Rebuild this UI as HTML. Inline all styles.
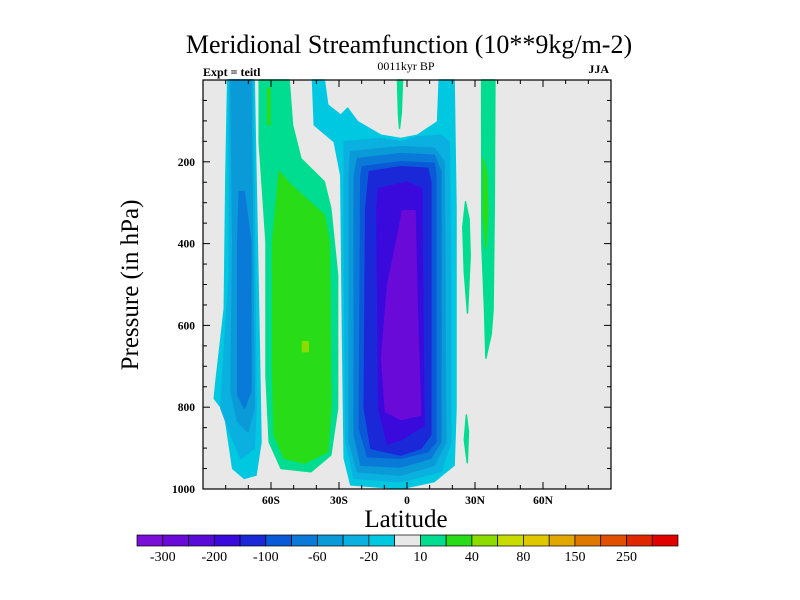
<!DOCTYPE html>
<html><head><meta charset="utf-8"><style>
body{margin:0;background:#fff;}
svg{display:block;font-family:"Liberation Serif",serif;}
</style></head><body>
<svg id="chart" width="800" height="600" viewBox="0 0 800 600">
<text x="409" y="53" font-size="26" text-anchor="middle">Meridional Streamfunction (10**9kg/m-2)</text>
<text x="203" y="76" font-size="12" font-weight="bold">Expt = teitl</text>
<text x="406" y="70" font-size="12" text-anchor="middle">0011kyr BP</text>
<text x="609" y="73" font-size="12" font-weight="bold" text-anchor="end">JJA</text>
<g id="plot"></g>
<g id="axes"></g>
<text x="406" y="527" font-size="25" text-anchor="middle">Latitude</text>
<text transform="translate(138,285) rotate(-90)" font-size="25" text-anchor="middle">Pressure (in hPa)</text>
<g id="cbar"></g>
</svg>
<script>
const latTicks=[-60,-30,0,30,60];
const latTickLabels=["60S","30S","0","30N","60N"];
const presTicks=[200,400,600,800,1000];
const cbarColors=["#7a10d8","#6a0ad8","#5a0ad8","#3a0adc","#1a28d8","#0a5ad8","#0a7ad8","#0a9ad8","#0ab0e0","#00c8e0","#e8e8e8","#00dc90","#28dc18","#8cdc00","#c8dc00","#e0c800","#e0a800","#e07800","#e05000","#e02800","#e00000"];
const cbarLabels=["-300","-200","-100","-60","-20","10","40","80","150","250"];
// contour bands: level index into cbarColors, polygon in [lat, hPa]
const bandLevels=[11,12,13,9,8,7,6, 9,8,7,6,5,4,3,1, 11,11,12,11,11,12];
const bandPolys=[
[[-65.2,0],[-52,0],[-50.5,110],[-46.8,192],[-36.5,249],[-33.6,314],[-30.6,477],[-30.6,803],[-33.6,917],[-42.4,958],[-55.6,950],[-60.8,885],[-62.2,722],[-62.2,396],[-65.2,151]],
[[-56.4,224],[-51.2,257],[-36.5,330],[-34.3,396],[-33.6,803],[-35,909],[-45.3,937],[-54.2,925],[-58.6,868],[-59.3,722],[-59.3,396]],
[[-46.1,640],[-43.6,640],[-43.6,664],[-46.1,664]],
[[-79.1,0],[-67.4,0],[-66.6,233],[-65.2,640],[-64.4,885],[-66.6,966],[-71.8,974],[-76.9,950],[-80.6,811],[-85,779],[-84.3,738],[-80.6,559],[-79.9,233]],
[[-78.4,0],[-68.1,0],[-67.4,314],[-66.6,803],[-67.4,901],[-73.3,925],[-77.7,868],[-82.1,803],[-81.3,722],[-78.4,477]],
[[-77.7,0],[-68.9,0],[-68.1,396],[-67.4,803],[-70.3,860],[-74.7,836],[-77.7,762],[-76.9,396]],
[[-74,273],[-71.8,273],[-68.9,396],[-68.9,762],[-71.8,803],[-74.7,770],[-74.7,396]],
[[-41.7,0],[-36.5,0],[-35,61],[-29.2,86],[-26.2,69],[-21.8,102],[-11.5,135],[-2.7,143],[4.6,135],[13.5,102],[14.2,0],[20.8,0],[21.6,314],[21.6,803],[20.8,942],[12,982],[-2.7,999],[-24.8,990],[-27.7,925],[-28.4,640],[-29.2,233],[-32.1,151],[-40.9,110]],
[[-27.7,151],[-11.5,143],[-2.7,151],[4.6,139],[14.9,135],[18.6,151],[19.3,477],[19.3,885],[14.9,958],[-2.7,982],[-23.3,974],[-26.9,885],[-27.7,396]],
[[-24.8,175],[-2.7,163],[12,167],[16.4,200],[17.1,885],[12,942],[-2.7,966],[-21.8,958],[-25.5,885],[-25.5,233]],
[[-21.8,192],[-2.7,180],[12,184],[14.9,224],[14.9,885],[10.5,925],[-2.7,946],[-20.3,942],[-23.3,868],[-23.3,233]],
[[-19.6,212],[-2.7,200],[12,204],[12.7,233],[12.7,885],[9.1,909],[-2.7,925],[-17.4,921],[-21.1,852],[-20.4,233]],
[[-16.6,224],[-2.7,212],[9.1,216],[10.5,249],[10.5,868],[6.1,901],[-2.7,917],[-15.9,901],[-18.9,803],[-18.2,314]],
[[-12.5,265],[0.2,250],[6.5,265],[7.5,844],[-2.7,880],[-8.6,890],[-12.5,803],[-13.3,314]],
[[-2,320],[3.5,320],[4.5,559],[6,819],[-2.7,830],[-9.5,810],[-11.2,681],[-8.5,500],[-4,380]],
[[-4.2,0],[-2,0],[-2.5,80],[-3.3,118],[-3.8,80]],
[[32.9,0],[38.8,0],[38.5,300],[38,560],[37.2,620],[34.8,680],[34.2,560],[33,400]],
[[33.6,191],[35.2,230],[35.6,330],[34.7,411],[33.6,330]],
[[25.8,298],[27.4,340],[27.9,430],[26.7,570],[25.3,470],[24.6,360]],
[[26.2,819],[27.1,860],[26.6,936],[25.3,880]],
[[-61.5,20],[-60.5,20],[-60.5,110],[-61.5,110]]
];
const X0=203,X1=611,Y0=80,Y1=489;
const xs=lat=>X0+(lat+90)/180*(X1-X0);
const ys=p=>Y0+p/1000*(Y1-Y0);
const NS="http://www.w3.org/2000/svg";
function mk(t,a,parent){const e=document.createElementNS(NS,t);for(const k in a)e.setAttribute(k,a[k]);parent.appendChild(e);return e;}
const plot=document.getElementById('plot');
const bg=mk('rect',{x:X0,y:Y0,width:X1-X0,height:Y1-Y0,fill:'#e8e8e8'},plot);


bandPolys.forEach((poly,i)=>{
  const pg=mk('polygon',{points:poly.map(q=>xs(q[0]).toFixed(1)+','+ys(q[1]).toFixed(1)).join(' '),fill:cbarColors[bandLevels[i]],'stroke':cbarColors[bandLevels[i]],'stroke-width':1.5,'stroke-linejoin':'round'},plot);
  
  
});
const axes=document.getElementById('axes');
const frame=mk('rect',{x:X0,y:Y0,width:X1-X0,height:Y1-Y0,fill:'none',stroke:'#000','stroke-width':1.2},axes);


for(let l=-80;l<=80;l+=10){const L=(l%30===0)?7:4;const x=xs(l);
  mk('line',{x1:x,x2:x,y1:Y1,y2:Y1-L,stroke:'#000'},axes);mk('line',{x1:x,x2:x,y1:Y0,y2:Y0+L,stroke:'#000'},axes);}
for(let p=50;p<1000;p+=50){const L=(p%200===0)?7:4;const y=ys(p);
  mk('line',{x1:X0,x2:X0+L,y1:y,y2:y,stroke:'#000'},axes);mk('line',{x1:X1,x2:X1-L,y1:y,y2:y,stroke:'#000'},axes);}
latTicks.forEach((l,i)=>{const t=mk('text',{x:xs(l),y:Y1+15,'font-size':11.5,'font-weight':'bold','text-anchor':'middle'},axes);t.textContent=latTickLabels[i];
  
  });
presTicks.forEach(p=>{const t=mk('text',{x:X0-8,y:ys(p)+4,'font-size':11.5,'font-weight':'bold','text-anchor':'end'},axes);t.textContent=p;
  
  });
const cb=document.getElementById('cbar');
const CX0=137,CX1=678,CY=535,CH=11,bw=(CX1-CX0)/cbarColors.length;
cbarColors.forEach((c,i)=>{const r=mk('rect',{x:CX0+i*bw,y:CY,width:bw,height:CH,fill:c,stroke:'#000','stroke-width':0.7},cb);
  
  });
cbarLabels.forEach((s,i)=>{const t=mk('text',{x:CX0+(2*i+1)*bw,y:CY+26,'font-size':14,'text-anchor':'middle'},cb);t.textContent=s;
  
  });
</script>
</body></html>
